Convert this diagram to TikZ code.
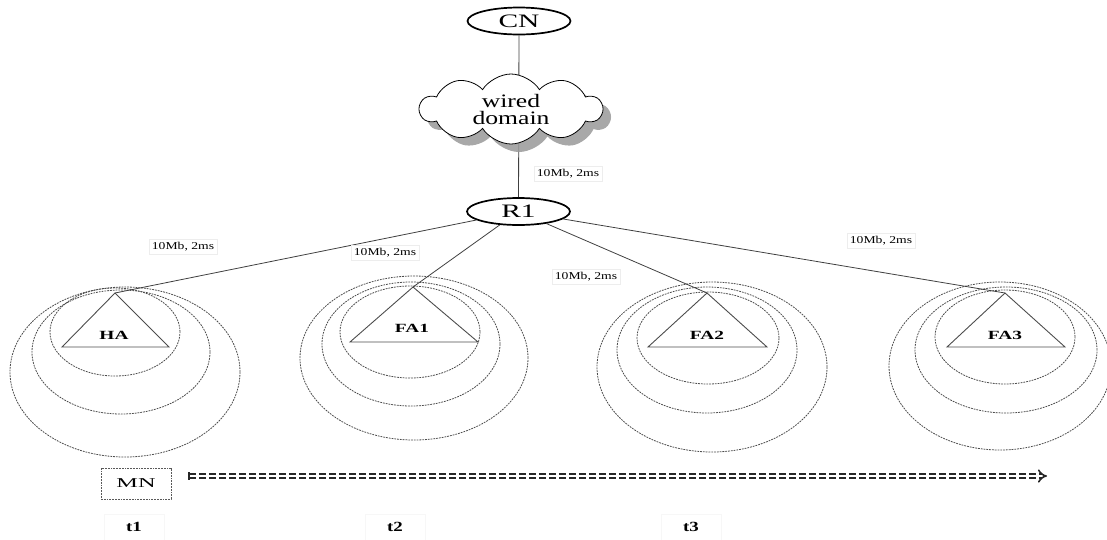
\documentclass[tikz,border=0pt]{standalone}
\usepackage{fontspec}
\setmainfont{Liberation Serif}
\newfontfamily\bigfont[FakeStretch=1.55]{Liberation Serif}
\newfontfamily\midfont[FakeStretch=1.35]{Liberation Serif}
\newfontfamily\smallfont[FakeStretch=1.3]{Liberation Serif}
\newfontfamily\widefont[FakeStretch=1.8]{Liberation Serif}
\usetikzlibrary{shapes.geometric,shapes.symbols,shadows,arrows.meta}

\begin{document}
\begin{tikzpicture}[x=1pt,y=-1pt,
  hostnode/.style={ellipse, draw, line width=1.7pt, minimum width=103pt,
    minimum height=27pt, inner sep=0pt, font=\bigfont\fontsize{19}{19}\selectfont},
  wireline/.style={draw=black!75, line width=0.8pt},
  coverage/.style={draw=black!70, line width=0.8pt, dash pattern=on 1.8pt off 1pt},
  agentshape/.style={draw=black!70, line width=0.9pt, line join=miter},
  agentlabel/.style={font=\bfseries\bigfont\fontsize{12.5}{12.5}\selectfont, inner sep=0pt},
  linklabel/.style={fill=white, draw=black!7, inner sep=3pt,
    font=\smallfont\fontsize{10.5}{10.5}\selectfont},
  timelabel/.style={fill=white, draw=black!3, minimum width=60pt, minimum height=26pt,
    inner sep=0pt, font=\bfseries\midfont\fontsize{14}{14}\selectfont},
  mnbox/.style={draw=black!65, line width=0.8pt, dash pattern=on 1.8pt off 1pt,
    minimum width=70pt, minimum height=31pt, inner sep=0pt,
    font=\widefont\fontsize{13.5}{13.5}\selectfont},
  movepath/.style={draw=black!85, line width=1.6pt, double distance=2.8pt,
    dash pattern=on 7pt off 3pt, -{Implies}}
]
\useasboundingbox (0,0) rectangle (1107,539);

% correspondent node and router
\node[hostnode] (CN) at (519,21) {CN};
\node[hostnode] (R1) at (518.5,211.5) {R1};
\draw[wireline] (CN) -- (R1);

% wired core
\node[cloud, cloud puffs=10, cloud puff arc=115, aspect=2.6, draw, fill=white,
  line width=0.8pt, minimum width=182pt, minimum height=70pt, inner sep=0pt,
  drop shadow={shadow xshift=8pt, shadow yshift=-8pt, fill=black!40, opacity=0.85},
  align=center, font=\midfont\fontsize{19}{17}\selectfont]
  (cloud) at (511,109) {wired\\domain};

% coverage areas of the agents
\draw[coverage] (115,332) ellipse [x radius=65pt, y radius=44pt];
\draw[coverage] (121,352) ellipse [x radius=89pt, y radius=62pt];
\draw[coverage] (125,372) ellipse [x radius=115pt, y radius=85pt];

\draw[coverage] (410,332) ellipse [x radius=70pt, y radius=46pt];
\draw[coverage] (411,344) ellipse [x radius=89pt, y radius=62pt];
\draw[coverage] (414,358) ellipse [x radius=114pt, y radius=82pt];

\draw[coverage] (708,338) ellipse [x radius=71pt, y radius=46pt];
\draw[coverage] (707,350) ellipse [x radius=90pt, y radius=63pt];
\draw[coverage] (712,367) ellipse [x radius=115pt, y radius=85pt];

\draw[coverage] (1005,337) ellipse [x radius=70pt, y radius=47pt];
\draw[coverage] (1006,350) ellipse [x radius=91pt, y radius=63pt];
\draw[coverage] (1000,366) ellipse [x radius=111pt, y radius=84pt];

% agents
\coordinate (HAtop) at (115,293);
\coordinate (FA1top) at (413,287);
\coordinate (FA2top) at (707,293);
\coordinate (FA3top) at (1005,293);

\draw[agentshape] (HAtop) -- (62,347) -- (169,347) -- cycle;
\draw[agentshape] (FA1top) -- (350,342) -- (478,342) -- cycle;
\draw[agentshape] (FA2top) -- (648,347) -- (767,347) -- cycle;
\draw[agentshape] (FA3top) -- (947,347) -- (1065,347) -- cycle;

\node[agentlabel] (HA) at (114,335) {HA};
\node[agentlabel] (FA1) at (412,328) {FA1};
\node[agentlabel] (FA2) at (707,335) {FA2};
\node[agentlabel] (FA3) at (1005,335) {FA3};

% links from the router
\draw[wireline] (R1) -- (HAtop);
\draw[wireline] (R1) -- (FA1top);
\draw[wireline] (R1) -- (FA2top);
\draw[wireline] (R1) -- (FA3top);

\node[linklabel] (l0) at (568,174) {10Mb, 2ms};
\node[linklabel] (l1) at (183,247) {10Mb, 2ms};
\node[linklabel] (l2) at (385,253) {10Mb, 2ms};
\node[linklabel] (l3) at (586,277) {10Mb, 2ms};
\node[linklabel] (l4) at (881,241) {10Mb, 2ms};

% mobile node and its movement
\node[mnbox] (MN) at (136,483.5) {MN};
\coordinate (go) at (189,476);
\coordinate (stop) at (1047,476);
\draw[movepath] (go) -- (stop);
\draw[draw=black!85, line width=1.6pt] ([yshift=3.6pt]go) -- ([yshift=-3.6pt]go);

\node[timelabel] (t1) at (134,527) {t1};
\node[timelabel] (t2) at (395,527) {t2};
\node[timelabel] (t3) at (691,527) {t3};
\end{tikzpicture}
\end{document}
